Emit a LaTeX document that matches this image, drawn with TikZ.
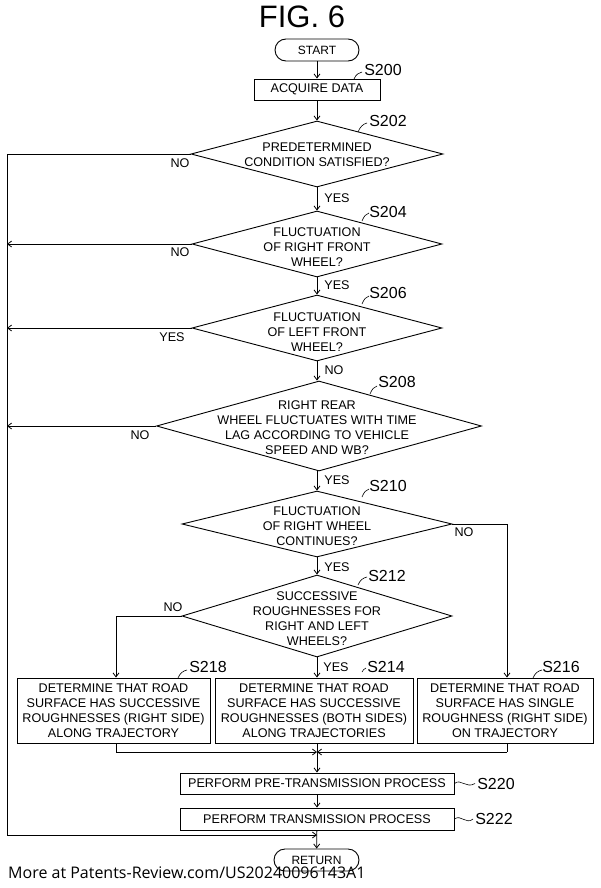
\documentclass[tikz,border=0pt]{standalone}
\usepackage{fontspec}
\setmainfont{Liberation Sans}
\newfontfamily\wmfont{Open Sans}
\usetikzlibrary{shapes.geometric,arrows.meta,calc}
\tikzset{
  txt/.style={font=\fontsize{12.6}{15}\selectfont},
  box/.style={draw, line width=0.9pt, inner sep=0pt, align=center, txt},
  term/.style={box, rounded corners=11pt, font=\fontsize{12}{14}\selectfont},
  dia/.style={diamond, draw, line width=0.9pt, inner sep=0pt},
  dtxt/.style={align=center, inner sep=0pt, txt},
  lbl/.style={inner sep=0pt, txt},
  stp/.style={inner sep=0pt, font=\fontsize{16}{18}\selectfont},
  arr/.style={-{Straight Barb[length=4pt,width=6pt]}, line width=0.8pt},
  ln/.style={line width=0.8pt},
  leader/.style={line width=0.6pt},
}
\begin{document}
\begin{tikzpicture}[x=1pt,y=-1pt]
\useasboundingbox (0,0) rectangle (600,888);
\node[inner sep=0pt, font=\fontsize{31}{34}\selectfont] (fig) at (302,17) {FIG. 6};

% terminals and boxes
\node[term, minimum width=84pt, minimum height=22pt] (start) at (317,50) {START};
\node[box, minimum width=126pt, minimum height=21pt] (acq) at (317,89.5) {ACQUIRE DATA};

% diamonds
\node[dia, minimum width=252pt, minimum height=66pt] (d202) at (317,154) {};
\node[dtxt] (t202) at (317,154.5) {PREDETERMINED\\CONDITION SATISFIED?};
\node[dia, minimum width=250pt, minimum height=66pt] (d204) at (317,244) {};
\node[dtxt] (t204) at (317,247.5) {FLUCTUATION\\OF RIGHT FRONT\\WHEEL?};
\node[dia, minimum width=250pt, minimum height=66pt] (d206) at (317,328) {};
\node[dtxt] (t206) at (317,332) {FLUCTUATION\\OF LEFT FRONT\\WHEEL?};
\node[dia, minimum width=325pt, minimum height=90pt] (d208) at (319,426) {};
\node[dtxt] (t208) at (317,427.5) {RIGHT REAR\\WHEEL FLUCTUATES WITH TIME\\LAG ACCORDING TO VEHICLE\\SPEED AND WB?};
\node[dia, minimum width=270pt, minimum height=66pt] (d210) at (317,524) {};
\node[dtxt] (t210) at (317,526) {FLUCTUATION\\OF RIGHT WHEEL\\CONTINUES?};
\node[dia, minimum width=270pt, minimum height=82pt] (d212) at (317,616) {};
\node[dtxt] (t212) at (317,619) {SUCCESSIVE\\ROUGHNESSES FOR\\RIGHT AND LEFT\\WHEELS?};

% result boxes
\node[box, minimum width=193pt, minimum height=65pt] (b218) at (113.5,710.5) {DETERMINE THAT ROAD\\SURFACE HAS SUCCESSIVE\\ROUGHNESSES (RIGHT SIDE)\\ALONG TRAJECTORY};
\node[box, minimum width=198pt, minimum height=65pt] (b214) at (314,710.5) {DETERMINE THAT ROAD\\SURFACE HAS SUCCESSIVE\\ROUGHNESSES (BOTH SIDES)\\ALONG TRAJECTORIES};
\node[box, minimum width=176pt, minimum height=65pt] (b216) at (505,710.5) {DETERMINE THAT ROAD\\SURFACE HAS SINGLE\\ROUGHNESS (RIGHT SIDE)\\ON TRAJECTORY};

\node[box, minimum width=274pt, minimum height=21pt] (b220) at (317,783.5) {PERFORM PRE-TRANSMISSION PROCESS};
\node[box, minimum width=274pt, minimum height=22pt] (b222) at (317,819) {PERFORM TRANSMISSION PROCESS};
\node[term, minimum width=85pt, minimum height=22pt] (ret) at (316.5,860) {RETURN};

% coordinates
\coordinate (lt) at (7,154);
\coordinate (lb) at (7,835);
\coordinate (jn) at (317,835);
\coordinate (mg) at (317,752);
\coordinate (c218) at (116,752);
\coordinate (c216) at (507,752);

% main flow
\draw[arr] (start) -- (acq);
\draw[arr] (acq) -- (d202.north);
\draw[arr] (d202.south) -- (d204.north);
\draw[arr] (d204.south) -- (d206.north);
\draw[arr] (d206.south) -- (d208.north -| d206.south);
\draw[arr] (d208.south -| d210.north) -- (d210.north);
\draw[arr] (d210.south) -- (d212.north);
\draw[arr] (d212.south) -- (b214.north -| d212.south);
\draw[arr] (b214.south -| mg) -- (b220.north);
\draw[arr] (b220) -- (b222);
\draw[arr] (b222) -- (ret);

% left returns
\draw[ln] (d202.west) -- (lt) -- (lb);
\draw[arr] (lb) -- (jn);
\draw[arr] (d204.west) -- (d204.west -| lt);
\draw[arr] (d206.west) -- (d206.west -| lt);
\draw[arr] (d208.west) -- (d208.west -| lt);

% branches
\draw[arr] (d212.west) -| (b218.north -| c218);
\draw[arr] (d210.east) -| (b216.north -| c216);
\draw[ln] (b218.south -| c218) -- (c218);
\draw[ln] (b216.south -| c216) -- (c216);
\draw[arr] (c218) -- (mg);
\draw[arr] (c216) -- (mg);

% yes/no labels
\node[lbl] (n202) at (180,163) {NO};
\node[lbl] (y202) at (337,198) {YES};
\node[lbl] (n204) at (180,252) {NO};
\node[lbl] (y204) at (337,285) {YES};
\node[lbl] (y206) at (172,337) {YES};
\node[lbl] (n206) at (334,370) {NO};
\node[lbl] (n208) at (140,435) {NO};
\node[lbl] (y208) at (337,480) {YES};
\node[lbl] (n210) at (464,532) {NO};
\node[lbl] (y210) at (337,567) {YES};
\node[lbl] (n212) at (173,607) {NO};
\node[lbl] (y212) at (336,667) {YES};

% step labels
\node[stp] (l200) at (383,70) {S200};
\node[stp] (l202) at (388,121) {S202};
\node[stp] (l204) at (388,212) {S204};
\node[stp] (l206) at (388,293) {S206};
\node[stp] (l208) at (397,382) {S208};
\node[stp] (l210) at (388,486) {S210};
\node[stp] (l212) at (387,576) {S212};
\node[stp] (l218) at (208,667) {S218};
\node[stp] (l214) at (386,667) {S214};
\node[stp] (l216) at (561,667) {S216};
\node[stp] (l220) at (496,783.5) {S220};
\node[stp] (l222) at (494,819) {S222};

% leaders
\draw[leader] (354,79) .. controls (356,74) and (359,73) .. (362,72);
\draw[leader] (358,132) .. controls (360,127) and (363,124) .. (367,123);
\draw[leader] (362,221) .. controls (364,216) and (366,214) .. (369,213);
\draw[leader] (362,304) .. controls (364,299) and (366,297) .. (369,296);
\draw[leader] (370,394) .. controls (372,389) and (374,387) .. (377,386);
\draw[leader] (362,497) .. controls (364,492) and (366,490) .. (369,489);
\draw[leader] (358,585) .. controls (360,580) and (363,578) .. (367,577);
\draw[leader] (178,678) .. controls (180,673) and (183,671) .. (187,670);
\draw[leader] (362,672) .. controls (363,670) and (364,669) .. (366,668);
\draw[leader] (533,678) .. controls (535,673) and (538,671) .. (542,670);
\draw[leader] (b220.east) .. controls (461,778) and (466,789) .. (475,783.5);
\draw[leader] (b222.east) .. controls (461,814) and (466,825) .. (473,819);

% watermark
\node[anchor=base west, inner sep=0pt, font=\wmfont\fontsize{16}{19}\selectfont] (wm) at (8,878) {More at Patents-Review.com/US20240096143A1};
\end{tikzpicture}
\end{document}
